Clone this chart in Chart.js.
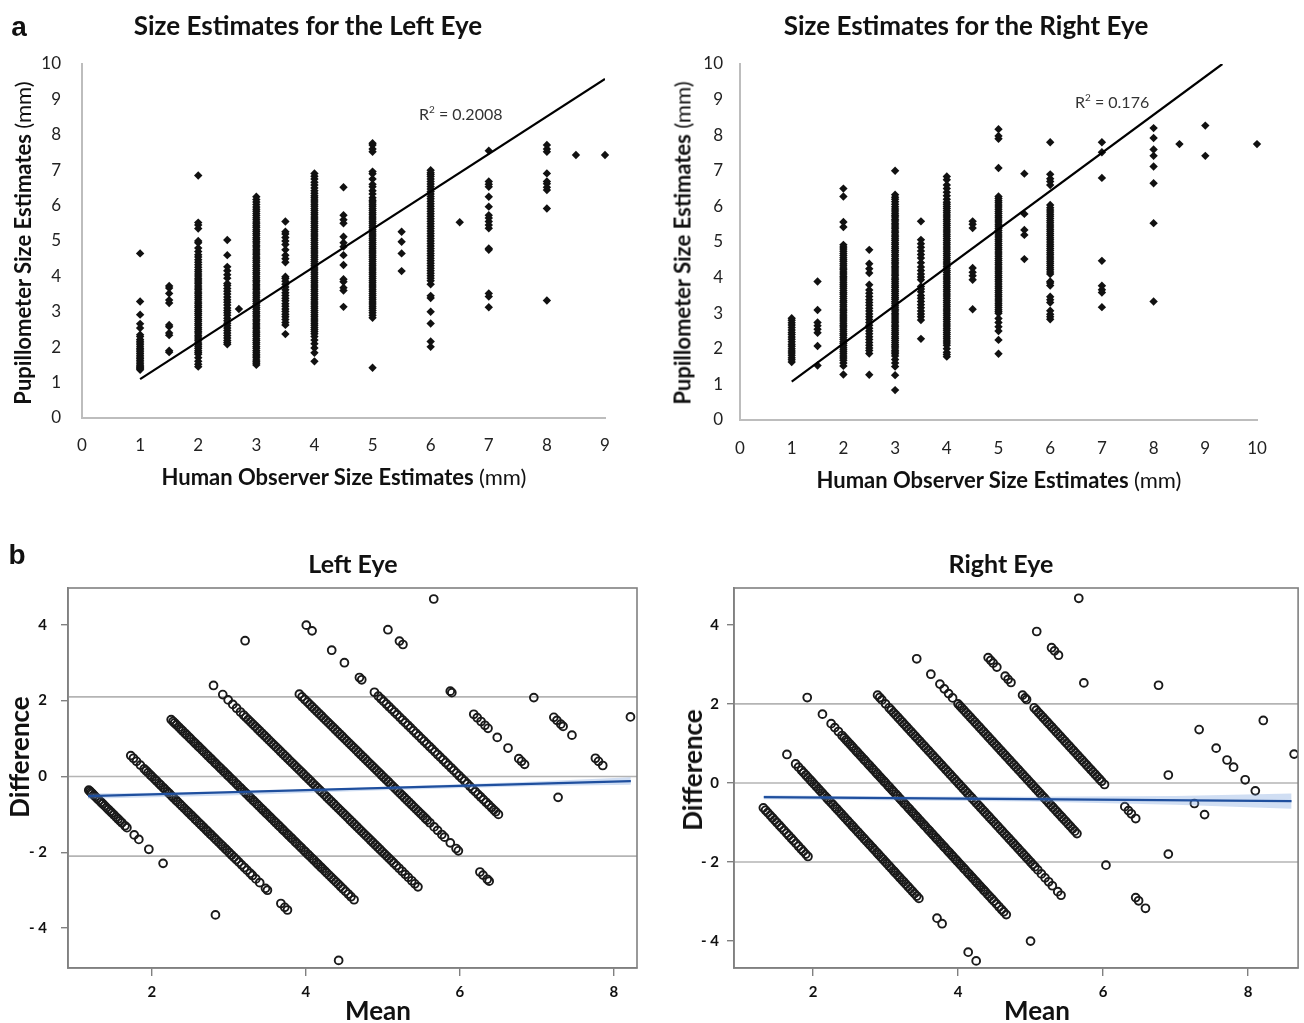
<!DOCTYPE html>
<html lang="en">
<head>
<meta charset="UTF-8">
<title>Pupillometer vs human observer</title>
<script src="https://cdn.jsdelivr.net/npm/chart.js@4.4.1/dist/chart.umd.min.js"></script>
<style>
    body { margin: 0; background: #fff; }
    #page { position: relative; width: 1304px; height: 1023px; overflow: hidden; font-family: Lato, "Noto Sans", sans-serif; color: #111; }
    canvas { position: absolute; }
    .t { position: absolute; transform: translate(-50%, -50%); white-space: nowrap; }
    .rot { transform: translate(-50%, -50%) rotate(-90deg); }
    .panel { font-family: "Liberation Sans", Arial, sans-serif; font-weight: bold; font-size: 28px; }
    .title { font-weight: bold; font-size: 26px; }
    .sub { font-weight: bold; font-size: 25px; }
    .axt { font-weight: bold; font-size: 22px; }
    .axt span { font-weight: normal; }
    .r2 { position: absolute; transform: translateY(-50%); font-size: 16px; color: #333; white-space: nowrap; }
    .r2 sup { font-size: 10px; }
    .big { font-size: 26px; font-weight: bold; }
</style>
</head>
<body>
<div id="page">
    <canvas id="topLeft" width="660" height="500" style="left:0;top:0"></canvas>
    <canvas id="topRight" width="644" height="500" style="left:660px;top:0"></canvas>
    <canvas id="baLeft" width="660" height="483" style="left:0;top:540px"></canvas>
    <canvas id="baRight" width="644" height="483" style="left:660px;top:540px"></canvas>

    <div class="t panel" style="left:19px;top:27px">a</div>
    <div class="t panel" style="left:17px;top:555px">b</div>

    <div class="t title" style="left:308px;top:25px">Size Estimates for the Left Eye</div>
    <div class="t title" style="left:966px;top:25px">Size Estimates for the Right Eye</div>
    <div class="t axt" style="left:344px;top:476px">Human Observer Size Estimates <span>(mm)</span></div>
    <div class="t axt" style="left:999px;top:479px">Human Observer Size Estimates <span>(mm)</span></div>
    <div class="t rot axt" style="left:22px;top:243px">Pupillometer Size Estimates <span>(mm)</span></div>
    <div class="t rot axt" style="left:682px;top:243px">Pupillometer Size Estimates <span>(mm)</span></div>
    <div class="r2" style="left:419px;top:113px">R<sup>2</sup> = 0.2008</div>
    <div class="r2" style="left:1075px;top:101px">R<sup>2</sup> = 0.176</div>

    <div class="t sub" style="left:353px;top:563px">Left Eye</div>
    <div class="t sub" style="left:1001px;top:563px">Right Eye</div>
    <div class="t big" style="left:378px;top:1010px">Mean</div>
    <div class="t big" style="left:1037px;top:1010px">Mean</div>
    <div class="t rot big" style="left:19px;top:757px">Difference</div>
    <div class="t rot big" style="left:692px;top:770px">Difference</div>
</div>

<script>
    // human observer estimate (mm) and the pupillometer readings recorded for it
    var leftHuman = [1, 1.5, 2, 2.5, 2.7, 3, 3.5, 4, 4.5, 5, 5.5, 6, 6.5, 7, 8, 8.5, 9];
    var leftPupil = [
        [1.36, 1.39, 1.42, 1.45, 1.49, 1.53, 1.58, 1.63, 1.68, 1.72, 1.77, 1.82, 1.87, 1.92, 1.96, 2.01, 2.07, 2.12, 2.17, 2.22, 2.3, 2.35, 2.54, 2.66, 2.92, 3.29, 4.65],
        [1.86, 1.9, 2.34, 2.4, 2.58, 2.63, 3.25, 3.33, 3.52, 3.67, 3.73],
        [1.45, 1.52, 1.6, 1.7, 1.8, 1.85, 1.9, 1.96, 2.01, 2.07, 2.12, 2.18, 2.23, 2.29, 2.34, 2.4, 2.45, 2.51, 2.56, 2.62, 2.67, 2.73, 2.78, 2.84, 2.9, 2.95, 3.01, 3.06, 3.12, 3.17, 3.23, 3.28, 3.34, 3.4, 3.45, 3.51, 3.56, 3.62, 3.67, 3.73, 3.79, 3.84, 3.9, 3.95, 4.01, 4.07, 4.13, 4.19, 4.26, 4.33, 4.4, 4.47, 4.55, 4.61, 4.7, 4.8, 4.95, 5.0, 5.35, 5.45, 5.52, 6.85],
        [2.08, 2.13, 2.19, 2.26, 2.33, 2.4, 2.47, 2.54, 2.61, 2.68, 2.75, 2.82, 2.9, 2.97, 3.04, 3.11, 3.19, 3.27, 3.34, 3.42, 3.5, 3.58, 3.66, 3.74, 3.8, 3.95, 4.05, 4.16, 4.27, 4.6, 5.03],
        [3.08],
        [1.5, 1.55, 1.59, 1.64, 1.7, 1.75, 1.8, 1.86, 1.91, 1.97, 2.02, 2.08, 2.13, 2.19, 2.24, 2.3, 2.35, 2.41, 2.46, 2.52, 2.57, 2.63, 2.68, 2.74, 2.79, 2.85, 2.9, 2.96, 3.01, 3.07, 3.12, 3.18, 3.23, 3.29, 3.34, 3.4, 3.45, 3.51, 3.56, 3.62, 3.67, 3.73, 3.78, 3.84, 3.89, 3.95, 4.0, 4.06, 4.11, 4.17, 4.22, 4.28, 4.33, 4.39, 4.44, 4.5, 4.55, 4.61, 4.66, 4.72, 4.77, 4.83, 4.88, 4.94, 4.99, 5.05, 5.1, 5.16, 5.21, 5.27, 5.32, 5.38, 5.43, 5.49, 5.54, 5.6, 5.66, 5.72, 5.78, 5.84, 5.9, 5.96, 6.03, 6.1, 6.17, 6.25],
        [2.37, 2.63, 2.7, 2.78, 2.86, 2.93, 3.01, 3.08, 3.16, 3.23, 3.31, 3.38, 3.46, 3.54, 3.62, 3.7, 3.78, 3.86, 3.94, 3.99, 4.4, 4.5, 4.6, 4.75, 4.9, 5.0, 5.1, 5.2, 5.26, 5.55],
        [1.6, 1.84, 1.98, 2.1, 2.2, 2.3, 2.38, 2.44, 2.5, 2.56, 2.62, 2.68, 2.74, 2.8, 2.86, 2.92, 2.98, 3.04, 3.1, 3.16, 3.22, 3.28, 3.34, 3.4, 3.46, 3.52, 3.58, 3.64, 3.7, 3.76, 3.82, 3.88, 3.94, 4.0, 4.06, 4.12, 4.18, 4.24, 4.3, 4.36, 4.42, 4.48, 4.54, 4.6, 4.66, 4.72, 4.78, 4.84, 4.9, 4.96, 5.02, 5.08, 5.14, 5.2, 5.26, 5.32, 5.38, 5.44, 5.5, 5.56, 5.62, 5.68, 5.74, 5.8, 5.86, 5.92, 5.98, 6.04, 6.1, 6.16, 6.22, 6.28, 6.35, 6.42, 6.5, 6.58, 6.66, 6.75, 6.83, 6.91],
        [3.14, 3.6, 3.68, 3.85, 3.92, 4.32, 4.6, 4.84, 4.95, 5.12, 5.5, 5.6, 5.73, 6.52],
        [1.42, 2.83, 2.9, 2.97, 3.04, 3.1, 3.16, 3.22, 3.28, 3.34, 3.4, 3.46, 3.52, 3.58, 3.64, 3.7, 3.76, 3.82, 3.88, 3.94, 4.0, 4.06, 4.12, 4.18, 4.24, 4.3, 4.36, 4.42, 4.48, 4.54, 4.6, 4.66, 4.72, 4.78, 4.84, 4.9, 4.96, 5.02, 5.08, 5.14, 5.2, 5.26, 5.32, 5.38, 5.44, 5.5, 5.56, 5.62, 5.68, 5.74, 5.8, 5.86, 5.92, 5.98, 6.04, 6.1, 6.15, 6.22, 6.33, 6.42, 6.53, 6.6, 6.75, 6.9, 6.96, 7.52, 7.6, 7.71, 7.76],
        [4.15, 4.65, 4.98, 5.26],
        [2.01, 2.16, 2.67, 3.0, 3.39, 3.45, 3.78, 3.88, 3.95, 4.02, 4.09, 4.16, 4.23, 4.3, 4.37, 4.44, 4.51, 4.58, 4.65, 4.72, 4.79, 4.86, 4.93, 5.0, 5.07, 5.14, 5.21, 5.28, 5.35, 5.42, 5.49, 5.56, 5.63, 5.7, 5.77, 5.84, 5.91, 5.98, 6.05, 6.12, 6.19, 6.26, 6.33, 6.4, 6.47, 6.54, 6.61, 6.68, 6.75, 6.82, 6.88, 6.93, 7.0],
        [5.53],
        [3.13, 3.43, 3.52, 4.75, 4.79, 5.36, 5.45, 5.55, 5.65, 5.73, 5.97, 6.25, 6.53, 6.6, 6.68, 7.55],
        [3.32, 5.92, 6.44, 6.52, 6.62, 6.68, 6.91, 7.52, 7.6, 7.71],
        [7.43],
        [7.43]
    ];

    var rightHuman = [1, 1.5, 2, 2.5, 3, 3.5, 4, 4.5, 5, 5.5, 6, 7, 8, 8.5, 9, 10];
    var rightPupil = [
        [1.63, 1.69, 1.75, 1.82, 1.88, 1.94, 2.0, 2.07, 2.13, 2.2, 2.27, 2.33, 2.4, 2.46, 2.53, 2.6, 2.67, 2.73, 2.8, 2.86],
        [1.53, 2.08, 2.45, 2.55, 2.65, 2.74, 3.09, 3.89],
        [1.28, 1.52, 1.6, 1.68, 1.74, 1.8, 1.86, 1.92, 1.97, 2.03, 2.09, 2.15, 2.2, 2.26, 2.32, 2.38, 2.43, 2.49, 2.55, 2.61, 2.66, 2.72, 2.78, 2.84, 2.89, 2.95, 3.01, 3.07, 3.12, 3.18, 3.24, 3.3, 3.35, 3.41, 3.47, 3.53, 3.58, 3.64, 3.7, 3.76, 3.81, 3.87, 3.93, 3.99, 4.04, 4.1, 4.16, 4.22, 4.27, 4.33, 4.39, 4.45, 4.5, 4.56, 4.62, 4.68, 4.74, 4.8, 4.86, 4.92, 5.42, 5.56, 6.28, 6.5],
        [1.27, 1.87, 1.95, 2.02, 2.1, 2.18, 2.26, 2.34, 2.42, 2.5, 2.58, 2.66, 2.74, 2.82, 2.9, 2.98, 3.06, 3.14, 3.22, 3.3, 3.38, 3.47, 3.56, 3.65, 3.8, 4.13, 4.25, 4.39, 4.78],
        [0.84, 1.26, 1.5, 1.6, 1.7, 1.8, 1.86, 1.91, 1.96, 2.02, 2.07, 2.12, 2.18, 2.23, 2.29, 2.34, 2.4, 2.45, 2.51, 2.56, 2.62, 2.67, 2.73, 2.78, 2.84, 2.89, 2.95, 3.0, 3.06, 3.11, 3.17, 3.22, 3.28, 3.33, 3.39, 3.44, 3.5, 3.55, 3.61, 3.66, 3.72, 3.77, 3.83, 3.88, 3.94, 3.99, 4.05, 4.1, 4.16, 4.21, 4.27, 4.32, 4.38, 4.43, 4.49, 4.54, 4.6, 4.65, 4.71, 4.76, 4.82, 4.87, 4.93, 4.98, 5.04, 5.09, 5.15, 5.2, 5.26, 5.31, 5.37, 5.42, 5.48, 5.53, 5.59, 5.64, 5.7, 5.75, 5.81, 5.87, 5.93, 5.99, 6.06, 6.13, 6.2, 6.26, 6.33, 7.0],
        [2.28, 2.81, 2.9, 2.98, 3.06, 3.15, 3.24, 3.33, 3.42, 3.5, 3.6, 3.68, 3.75, 3.94, 4.02, 4.1, 4.2, 4.3, 4.42, 4.55, 4.65, 4.75, 4.85, 4.95, 5.06, 5.58],
        [1.78, 1.84, 1.9, 2.0, 2.1, 2.16, 2.22, 2.28, 2.34, 2.4, 2.46, 2.52, 2.58, 2.64, 2.7, 2.76, 2.82, 2.88, 2.94, 3.0, 3.06, 3.12, 3.18, 3.24, 3.3, 3.36, 3.42, 3.48, 3.54, 3.6, 3.66, 3.72, 3.78, 3.84, 3.9, 3.96, 4.02, 4.08, 4.14, 4.2, 4.26, 4.32, 4.38, 4.44, 4.5, 4.56, 4.62, 4.68, 4.74, 4.8, 4.86, 4.92, 4.98, 5.04, 5.1, 5.16, 5.22, 5.28, 5.34, 5.4, 5.46, 5.52, 5.58, 5.64, 5.7, 5.76, 5.82, 5.88, 5.94, 6.0, 6.06, 6.12, 6.2, 6.3, 6.4, 6.5, 6.6, 6.75, 6.84],
        [3.11, 3.94, 4.05, 4.15, 4.27, 5.39, 5.5, 5.58],
        [1.86, 2.25, 2.5, 2.62, 2.74, 2.85, 3.0, 3.05, 3.1, 3.16, 3.22, 3.28, 3.34, 3.4, 3.46, 3.52, 3.58, 3.64, 3.7, 3.76, 3.82, 3.88, 3.94, 4.0, 4.06, 4.12, 4.18, 4.24, 4.3, 4.36, 4.42, 4.48, 4.54, 4.6, 4.66, 4.72, 4.78, 4.84, 4.9, 4.96, 5.02, 5.08, 5.14, 5.2, 5.26, 5.32, 5.38, 5.44, 5.5, 5.56, 5.62, 5.68, 5.74, 5.8, 5.86, 5.92, 5.98, 6.04, 6.1, 6.16, 6.22, 6.28, 7.08, 7.9, 7.98, 8.17],
        [4.52, 5.2, 5.34, 5.79, 6.92],
        [2.83, 2.9, 2.97, 3.07, 3.3, 3.38, 3.46, 3.78, 3.85, 3.89, 4.1, 4.16, 4.22, 4.28, 4.34, 4.4, 4.46, 4.52, 4.58, 4.64, 4.7, 4.76, 4.82, 4.88, 4.94, 5.0, 5.06, 5.12, 5.18, 5.24, 5.3, 5.36, 5.42, 5.48, 5.54, 5.6, 5.66, 5.72, 5.78, 5.84, 5.9, 5.96, 6.04, 6.6, 6.7, 6.78, 6.9, 7.8],
        [3.17, 3.58, 3.66, 3.77, 4.47, 6.8, 7.52, 7.8],
        [3.33, 5.53, 6.65, 7.12, 7.42, 7.6, 7.92, 8.2],
        [7.75],
        [7.42, 8.27],
        [7.75]
    ];

    // linear trendlines (Excel) for the top panels
    var leftTrendX = [1, 9];
    var leftTrendY = [1.1, 9.58];
    var rightTrendX = [1, 9.33];
    var rightTrendY = [1.08, 10];

    // Bland-Altman: limits of agreement, fitted line and its confidence band
    var leftLimits = [2.1, 0, -2.1];
    var rightLimits = [2.0, 0, -2.0];
    var leftFitX = [1.17, 8.22];
    var leftFitY = [-0.52, -0.12];
    var rightFitX = [1.32, 8.6];
    var rightFitY = [-0.36, -0.46];
    var leftBandX = [1.17, 3, 5, 7, 8.22];
    var leftBandHi = [-0.45, -0.41, -0.28, -0.13, -0.02];
    var leftBandLo = [-0.59, -0.5, -0.36, -0.25, -0.22];
    var rightBandX = [1.32, 3, 5, 7, 8.6];
    var rightBandHi = [-0.31, -0.34, -0.35, -0.33, -0.27];
    var rightBandLo = [-0.41, -0.44, -0.47, -0.55, -0.65];

    var frame = {
        id: 'frame',
        afterDraw: function (chart, args, opts) {
            if (!opts.color) return;
            var a = chart.chartArea, ctx = chart.ctx;
            ctx.save();
            ctx.strokeStyle = opts.color;
            ctx.lineWidth = opts.width;
            ctx.strokeRect(a.left, a.top, a.right - a.left, a.bottom - a.top);
            ctx.restore();
        }
    };
    Chart.register(frame);

    function pairs(xs, ys) {
        return xs.map(function (x, i) { return {x: x, y: ys[i]}; });
    }

    function topChart(id, human, pupil, trendX, trendY, xMax, pad, xPad, yPad) {
        var pts = [];
        human.forEach(function (h, i) {
            pupil[i].forEach(function (p) { pts.push({x: h, y: p}); });
        });
        var tickFont = {family: 'Lato', size: 17};
        return new Chart(document.getElementById(id), {
            type: 'scatter',
            data: {
                datasets: [{
                    data: pairs(trendX, trendY),
                    showLine: true,
                    borderColor: '#000',
                    borderWidth: 2.2,
                    pointRadius: 0
                }, {
                    data: pts,
                    pointStyle: 'rectRot',
                    pointRadius: 4.2,
                    backgroundColor: '#111',
                    borderWidth: 0,
                    clip: false
                }]
            },
            options: {
                responsive: false,
                animation: false,
                layout: {padding: pad},
                plugins: {legend: {display: false}, tooltip: {enabled: false}},
                scales: {
                    x: {
                        type: 'linear', min: 0, max: xMax,
                        ticks: {stepSize: 1, padding: xPad, color: '#222', font: tickFont},
                        grid: {display: false, drawTicks: false},
                        border: {display: true, color: '#bdbdbd', width: 2},
                        afterFit: function (s) { s.height = 40; }
                    },
                    y: {
                        min: 0, max: 10,
                        ticks: {stepSize: 1, padding: yPad, color: '#222', font: tickFont},
                        grid: {display: false, drawTicks: false},
                        border: {display: true, color: '#bdbdbd', width: 2},
                        afterFit: function (s) { s.width = 50; }
                    }
                }
            }
        });
    }

    function blandAltman(id, human, pupil, limits, fitX, fitY, bandX, bandHi, bandLo, xr, yr, pad, yPad) {
        var pts = [];
        human.forEach(function (h, i) {
            if (!Number.isInteger(h)) return;
            pupil[i].forEach(function (p) { pts.push({x: (h + p) / 2, y: h - p}); });
        });
        var sets = [{
            data: pairs(fitX, fitY),
            showLine: true, borderColor: '#1f4f9e', borderWidth: 2.2, pointRadius: 0
        }, {
            data: pairs(bandX, bandHi),
            showLine: true, borderWidth: 0, pointRadius: 0,
            fill: '+1', backgroundColor: 'rgba(120,160,220,0.35)'
        }, {
            data: pairs(bandX, bandLo),
            showLine: true, borderWidth: 0, pointRadius: 0
        }, {
            data: pts,
            pointStyle: 'circle', pointRadius: 3.9,
            backgroundColor: 'rgba(0,0,0,0)', borderColor: '#1a1a1a', borderWidth: 1.9
        }];
        limits.forEach(function (v) {
            sets.push({
                data: [{x: xr[0], y: v}, {x: xr[1], y: v}],
                showLine: true, borderColor: '#b4b4b4', borderWidth: 1.6, pointRadius: 0
            });
        });
        var tickFont = {family: 'Lato', size: 15, weight: 'bold'};
        return new Chart(document.getElementById(id), {
            type: 'scatter',
            data: {datasets: sets},
            options: {
                responsive: false,
                animation: false,
                layout: {padding: pad},
                plugins: {legend: {display: false}, tooltip: {enabled: false}, frame: {color: '#808080', width: 1.6}},
                scales: {
                    x: {
                        type: 'linear', min: xr[0], max: xr[1],
                        ticks: {stepSize: 2, includeBounds: false, padding: 7, color: '#111', font: tickFont},
                        grid: {drawOnChartArea: false, drawTicks: true, tickLength: 8, color: '#808080', lineWidth: 1.4},
                        border: {display: true, color: '#808080', width: 1.6},
                        afterFit: function (s) { s.height = 40; }
                    },
                    y: {
                        min: yr[0], max: yr[1],
                        ticks: {
                            stepSize: 2, includeBounds: false, padding: yPad, color: '#111', font: tickFont,
                            callback: function (v) { return v < 0 ? '- ' + (-v) : String(v); }
                        },
                        grid: {drawOnChartArea: false, drawTicks: true, tickLength: 7, color: '#808080', lineWidth: 1.4},
                        border: {display: true, color: '#808080', width: 1.6},
                        afterFit: function (s) { s.width = 50; }
                    }
                }
            }
        });
    }

    topChart('topLeft', leftHuman, leftPupil, leftTrendX, leftTrendY, 9,
        {left: 32, right: 55, top: 64, bottom: 42}, 17, 21);
    topChart('topRight', rightHuman, rightPupil, rightTrendX, rightTrendY, 10,
        {left: 30, right: 47, top: 64, bottom: 40}, 18, 17);
    blandAltman('baLeft', leftHuman, leftPupil, leftLimits, leftFitX, leftFitY,
        leftBandX, leftBandHi, leftBandLo, [0.91, 8.3], [-5.05, 4.97],
        {left: 18, right: 23, top: 48, bottom: 15}, 14);
    blandAltman('baRight', rightHuman, rightPupil, rightLimits, rightFitX, rightFitY,
        rightBandX, rightBandHi, rightBandLo, [0.91, 8.69], [-4.68, 4.93],
        {left: 24, right: 4, top: 48, bottom: 15}, 8);
</script>
</body>
</html>
